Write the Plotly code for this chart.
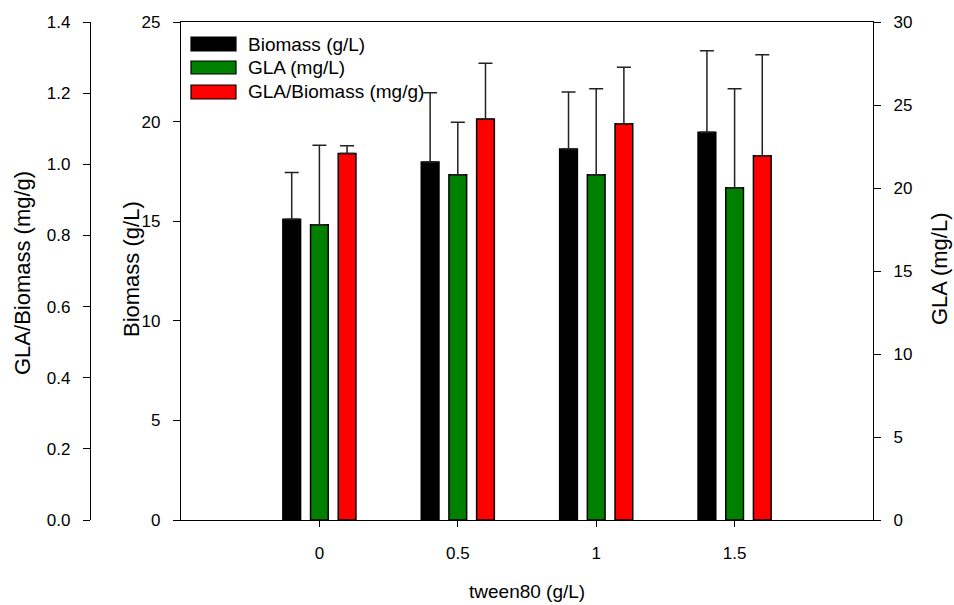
import plotly.graph_objects as go

W, H = 954, 605

tween80 = [0, 0.5, 1, 1.5]
tick_labels = ["0", "0.5", "1", "1.5"]

biomass = [15.10, 17.97, 18.62, 19.46]
biomass_err = [2.35, 3.48, 2.87, 4.10]

gla = [17.79, 20.80, 20.80, 20.02]
gla_err = [4.78, 3.16, 5.18, 5.96]

ratio = [1.030, 1.127, 1.114, 1.024]
ratio_err = [0.022, 0.157, 0.159, 0.284]

names = ["Biomass (g/L)", "GLA (mg/L)", "GLA/Biomass (mg/g)"]
colors = ["#000000", "#008000", "#ff0000"]

FONT = "Liberation Sans, Arial, sans-serif"

# plot area in pixels
PL, PR, PT, PB = 181, 873, 22, 520

def px(x):
    return x / W

def py(y):
    return 1 - y / H

bar_w = 0.064
offsets = [-0.1 - bar_w / 2, -bar_w / 2, 0.1 - bar_w / 2]

fig = go.Figure()
series = [(biomass, biomass_err, "y"), (gla, gla_err, "y2"), (ratio, ratio_err, "y3")]
for i, (vals, errs, ax) in enumerate(series):
    fig.add_trace(go.Bar(
        x=tween80, y=vals, name=names[i], yaxis=ax,
        width=bar_w, offset=offsets[i],
        marker=dict(color=colors[i], line=dict(color="#000000", width=1.5)),
        error_y=dict(type="data", array=errs, arrayminus=[0] * len(errs),
                     symmetric=False, color="#222222", thickness=1.5, width=7),
        showlegend=False,
    ))

axis_common = dict(
    showline=True, linecolor="#000000", linewidth=1.2,
    ticks="outside", ticklen=7, tickwidth=1.2, tickcolor="#000000",
    showgrid=False, zeroline=False,
    tickfont=dict(family=FONT, size=17, color="#000000"),
    automargin=False, ticklabelstandoff=9,
)

xaxis_common = dict(axis_common)
xaxis_common.update(ticklen=6, ticklabelstandoff=11)

fig.update_layout(
    width=W, height=H,
    margin=dict(l=0, r=0, t=0, b=0),
    paper_bgcolor="white", plot_bgcolor="white",
    barmode="overlay",
    xaxis=dict(
        domain=[px(PL), px(PR)], range=[-0.5, 2.0],
        tickvals=tween80, ticktext=tick_labels, mirror=True,
        **xaxis_common,
    ),
    yaxis=dict(
        domain=[py(PB), py(PT)], range=[0, 25], dtick=5, side="left",
        anchor="x", **axis_common,
    ),
    yaxis2=dict(
        range=[0, 30], dtick=5, side="right", overlaying="y", anchor="x",
        **axis_common,
    ),
    yaxis3=dict(
        range=[0, 1.4], dtick=0.2, tickformat=".1f", side="left",
        overlaying="y", anchor="free", position=px(90),
        **axis_common,
    ),
)

# axis titles
fig.add_annotation(text="tween80 (g/L)", x=px((PL + PR) / 2), y=py(591), xref="paper", yref="paper",
                   showarrow=False, font=dict(family=FONT, size=19, color="#000000"),
                   xanchor="center", yanchor="middle")
rot_font = dict(family=FONT, size=22, color="#000000")
fig.add_annotation(text="Biomass (g/L)", x=px(131), y=py(269), xref="paper", yref="paper",
                   showarrow=False, font=rot_font, textangle=-90, xanchor="center", yanchor="middle")
fig.add_annotation(text="GLA/Biomass (mg/g)", x=px(23), y=py(273), xref="paper", yref="paper",
                   showarrow=False, font=rot_font, textangle=-90, xanchor="center", yanchor="middle")
fig.add_annotation(text="GLA (mg/L)", x=px(939), y=py(269), xref="paper", yref="paper",
                   showarrow=False, font=rot_font, textangle=-90, xanchor="center", yanchor="middle")

# legend drawn manually
leg_y = [(37, 51), (61, 74), (85, 99)]
for i, (y0, y1) in enumerate(leg_y):
    fig.add_shape(type="rect", xref="paper", yref="paper",
                  x0=px(191), x1=px(236), y0=py(y1), y1=py(y0),
                  fillcolor=colors[i], line=dict(color="#000000", width=1.2))
    fig.add_annotation(text=names[i], x=px(246), y=py((y0 + y1) / 2), xref="paper", yref="paper",
                       showarrow=False, xanchor="left", yanchor="middle",
                       font=dict(family=FONT, size=19, color="#000000"))

fig.write_html("out.html")
